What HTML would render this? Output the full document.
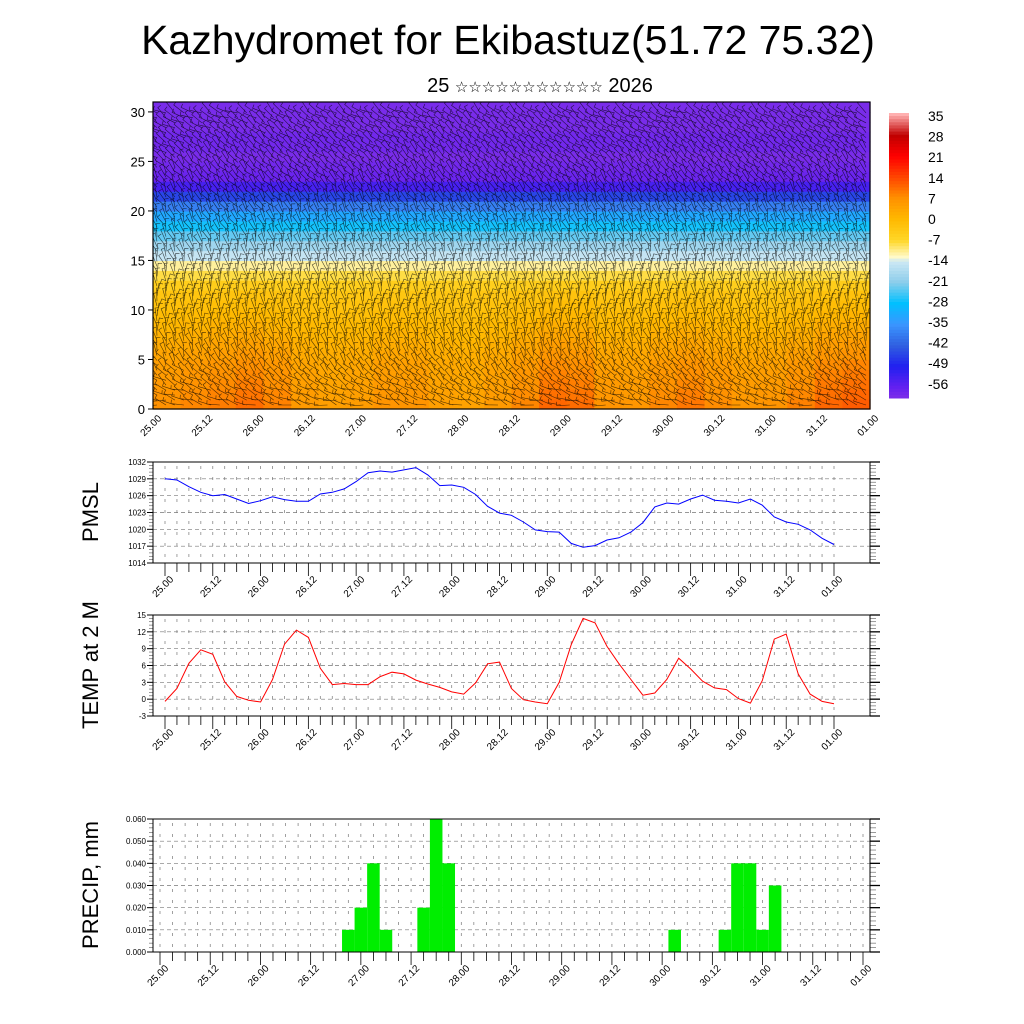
<!DOCTYPE html>
<html><head><meta charset="utf-8"><style>
body{margin:0;background:#fff;}
svg{display:block;font-family:"Liberation Sans","DejaVu Sans",sans-serif;}
</style></head><body>
<svg id="s" width="1024" height="1024" viewBox="0 0 1024 1024">
<defs><clipPath id="clipTop"><rect x="153" y="102" width="717" height="307"/></clipPath></defs>
<text x="508" y="54" font-size="41" text-anchor="middle">Kazhydromet for Ekibastuz(51.72 75.32)</text>
<text x="540" y="92" font-size="20" text-anchor="middle">25 <tspan font-size="15">☆☆☆☆☆☆☆☆☆☆☆</tspan> 2026</text>
<g id="top"></g>
<g id="cbar"></g>
<g id="pmsl"></g>
<g id="temp"></g>
<g id="prec"></g>
</svg>
<script>
const timeLabels=["25.00","25.12","26.00","26.12","27.00","27.12","28.00","28.12","29.00","29.12","30.00","30.12","31.00","31.12","01.00"];
const pmslValues=[1029.0,1028.8,1027.6,1026.6,1026.0,1026.2,1025.4,1024.6,1025.1,1025.8,1025.3,1025.0,1025.0,1026.3,1026.6,1027.2,1028.5,1030.1,1030.4,1030.2,1030.6,1031.0,1029.7,1027.8,1027.9,1027.5,1026.2,1024.1,1022.9,1022.5,1021.3,1019.9,1019.6,1019.5,1017.5,1016.8,1017.1,1018.1,1018.5,1019.5,1021.2,1024.0,1024.7,1024.5,1025.4,1026.1,1025.2,1025.0,1024.7,1025.4,1024.3,1022.2,1021.3,1020.9,1019.9,1018.4,1017.3];
const pmslTicks=[1014,1017,1020,1023,1026,1029,1032];
const tempValues=[-0.4,1.9,6.4,8.8,8.0,3.1,0.5,-0.2,-0.5,3.5,9.8,12.3,11.0,5.5,2.6,2.8,2.6,2.6,4.0,4.8,4.5,3.4,2.7,2.1,1.3,0.9,2.9,6.3,6.6,1.9,-0.1,-0.5,-0.8,3.0,9.7,14.4,13.6,9.4,6.3,3.5,0.7,1.1,3.5,7.3,5.4,3.2,2.0,1.7,0.1,-0.7,3.3,10.7,11.6,4.5,0.9,-0.4,-0.8];
const tempTicks=[-3,0,3,6,9,12,15];
const precipValues=[0,0,0,0,0,0,0,0,0,0,0,0,0,0,0,0.01,0.02,0.04,0.01,0,0,0.02,0.06,0.04,0,0,0,0,0,0,0,0,0,0,0,0,0,0,0,0,0,0.01,0,0,0,0.01,0.04,0.04,0.01,0.03,0,0,0,0,0,0,0];
const precipTicks=["0.000","0.010","0.020","0.030","0.040","0.050","0.060"];
const heightTicks=[0,5,10,15,20,25,30];
const profileTemp=[6,5.5,5,4.5,4,3,2,1,0,-1,-2,-3,-5,-8,-11,-15,-19,-23,-27,-32,-38,-45,-53,-57,-58,-59,-58,-58,-59,-59,-59];
const surfaceAnom=[2,4,6,9,5,-1,-3,-2,1,1,-3,-4,-1,4,10,9,1,0,4,7,3,0,1,5,10,12];
const cbarLabels=[35,28,21,14,7,0,-7,-14,-21,-28,-35,-42,-49,-56];
const windDir=[200,210,220,230,240,250,255,260,265,270,270,268,265,262,260,258,255,250,248,245,240,238,235,230,228,225,222,220,218,215,212];
const NS="http://www.w3.org/2000/svg";
function el(tag,attrs,parent){const e=document.createElementNS(NS,tag);for(const k in attrs)e.setAttribute(k,attrs[k]);parent.appendChild(e);return e;}
const stops=[[-60,[128,48,232]],[-56,[100,32,240]],[-49,[32,32,240]],[-42,[48,96,224]],[-35,[58,150,255]],[-28,[0,192,255]],[-21,[140,205,235]],[-14,[205,232,244]],[-12.5,[255,250,200]],[-7,[255,215,40]],[0,[255,185,0]],[7,[255,145,0]],[14,[255,70,0]],[21,[255,0,0]],[28,[192,0,0]],[35,[255,176,176]]];
function col(v){if(v<=stops[0][0])return `rgb(${stops[0][1]})`;for(let i=1;i<stops.length;i++){if(v<=stops[i][0]){const a=stops[i-1],b=stops[i];const f=(v-a[0])/(b[0]-a[0]);const c=a[1].map((x,j)=>Math.round(x+(b[1][j]-x)*f));return `rgb(${c})`;}}return `rgb(${stops[stops.length-1][1]})`;}
const T=document.getElementById('top');
const L=153,R=870,TT=102,TB=409;
const hy=h=>TB-(h/31)*(TB-TT);
const nT=surfaceAnom.length,cw=(R-L)/nT;
for(let i=0;i<nT;i++){for(let z=0;z<profileTemp.length;z++){
 const w=Math.max(0,(13-z)/13);
 const v=profileTemp[z]+surfaceAnom[i]*w*0.5;
 const r=el('rect',{x:L+i*cw,y:hy(z+1),width:cw+0.6,height:hy(z)-hy(z+1)+0.6,fill:col(v)},T);
 
 
}}
const bars=el('g',{stroke:'#000','stroke-width':0.6,'stroke-opacity':0.7,'clip-path':'url(#clipTop)'},T);


let d='';
const nb=80;
for(let i=0;i<nb;i++){for(let zz=0;zz<60;zz++){
 const z=zz*0.5;
 const x=L+4+i*(R-L-8)/(nb-1),y=hy(z+0.4);
 const a=(windDir[Math.floor(z)]+((i*37+zz*13)%50)-25)*Math.PI/180;
 const len=13,dx=Math.cos(a)*len,dy=Math.sin(a)*len;
 d+=`M${x.toFixed(1)} ${y.toFixed(1)}l${dx.toFixed(1)} ${dy.toFixed(1)}`;
 d+=`l${(-dy*0.3).toFixed(1)} ${(dx*0.3).toFixed(1)}`;
}}
el('path',{d:d,fill:'none'},bars);
el('rect',{x:L,y:TT,width:R-L,height:TB-TT,fill:'none',stroke:'#000','stroke-width':1.2},T);
heightTicks.forEach(h=>{const y=hy(h);el('line',{x1:L,x2:L-5,y1:y,y2:y,stroke:'#000'},T);
 const t=el('text',{x:L-8,y:y+5,'font-size':13,'text-anchor':'end'},T);t.textContent=h;});
function xLabels(g,x0,x1,yb){timeLabels.forEach((s,i)=>{const x=x0+i*(x1-x0)/(timeLabels.length-1);
 const t=el('text',{transform:`translate(${x+9},${yb}) rotate(-45)`,'font-size':10,'text-anchor':'end'},g);t.textContent=s;
 });}
xLabels(T,L,R,419);
const C=document.getElementById('cbar');
const cy0=113,cy1=398,nC=92;
for(let k=0;k<nC;k++){const v=35-k*(95/nC);el('rect',{x:889,y:cy0+k*(cy1-cy0)/nC,width:20,height:(cy1-cy0)/nC+0.5,fill:col(v)},C);}
cbarLabels.forEach((v,i)=>{const t=el('text',{x:928,y:121+i*20.6,'font-size':14},C);t.textContent=v;});
function panel(id,top,bot,ticks,values,xs0,xs1,color,title,titleY){
 const G=document.getElementById(id);
 const lo=+ticks[0],hi=+ticks[ticks.length-1];
 const yf=v=>bot-(v-lo)/(hi-lo)*(bot-top);
 const n=57,xf=i=>xs0+i*(xs1-xs0)/(n-1);
 for(let i=0;i<n;i++){el('line',{x1:xf(i),x2:xf(i),y1:top+4,y2:bot,stroke:'#777','stroke-width':0.7,'stroke-dasharray':'3,8'},G);
  el('line',{x1:xf(i),x2:xf(i),y1:bot,y2:bot+(i%4==0?13:9),stroke:'#000','stroke-width':0.8},G);}
 ticks.forEach((tk,j)=>{const y=yf(+tk);
  if(j>0&&j<ticks.length-1)el('line',{x1:L,x2:R,y1:y,y2:y,stroke:'#777','stroke-width':0.7,'stroke-dasharray':'4,3'},G);
  el('line',{x1:L-6,x2:L,y1:y,y2:y,stroke:'#000'},G);el('line',{x1:R,x2:R+10,y1:y,y2:y,stroke:'#000','stroke-width':1.3},G);
  if(j<ticks.length-1)for(let m=1;m<5;m++){const ym=y-m*(yf(+ticks[0])-yf(+ticks[1]))/5;el('line',{x1:L-4,x2:L,y1:ym,y2:ym,stroke:'#555','stroke-width':0.6},G);el('line',{x1:R,x2:R+6,y1:ym,y2:ym,stroke:'#555','stroke-width':0.6},G);}
  const t=el('text',{x:L-7,y:y+3,'font-size':8,'text-anchor':'end'},G);t.textContent=tk;});
 if(color){const p=el('polyline',{points:values.map((v,i)=>`${xf(i).toFixed(1)},${yf(v).toFixed(1)}`).join(' '),fill:'none',stroke:color,'stroke-width':1},G);
  }
 else{const dx=(xs1-xs0)/(n-1);values.forEach((v,i)=>{if(v<=0)return;const r=el('rect',{x:xf(i)-dx/2,y:yf(v),width:dx,height:bot-yf(v),fill:'#00ee00'},G);
  });}
 el('rect',{x:L,y:top,width:R-L,height:bot-top,fill:'none',stroke:'#000','stroke-width':1},G);
 const tx=el('text',{transform:`translate(98,${titleY}) rotate(-90)`,'font-size':22,'text-anchor':'middle'},G);tx.textContent=title;
 
 xLabels(G,xs0,xs1,bot+17);
}
panel('pmsl',462,563,pmslTicks,pmslValues,165,834,'#0000ff','PMSL',512);
panel('temp',615,716,tempTicks,tempValues,165,834,'#ff0000','TEMP at 2 M',665);
panel('prec',819,952,precipTicks,precipValues,160,863,null,'PRECIP, mm',885);
</script>
</body></html>
